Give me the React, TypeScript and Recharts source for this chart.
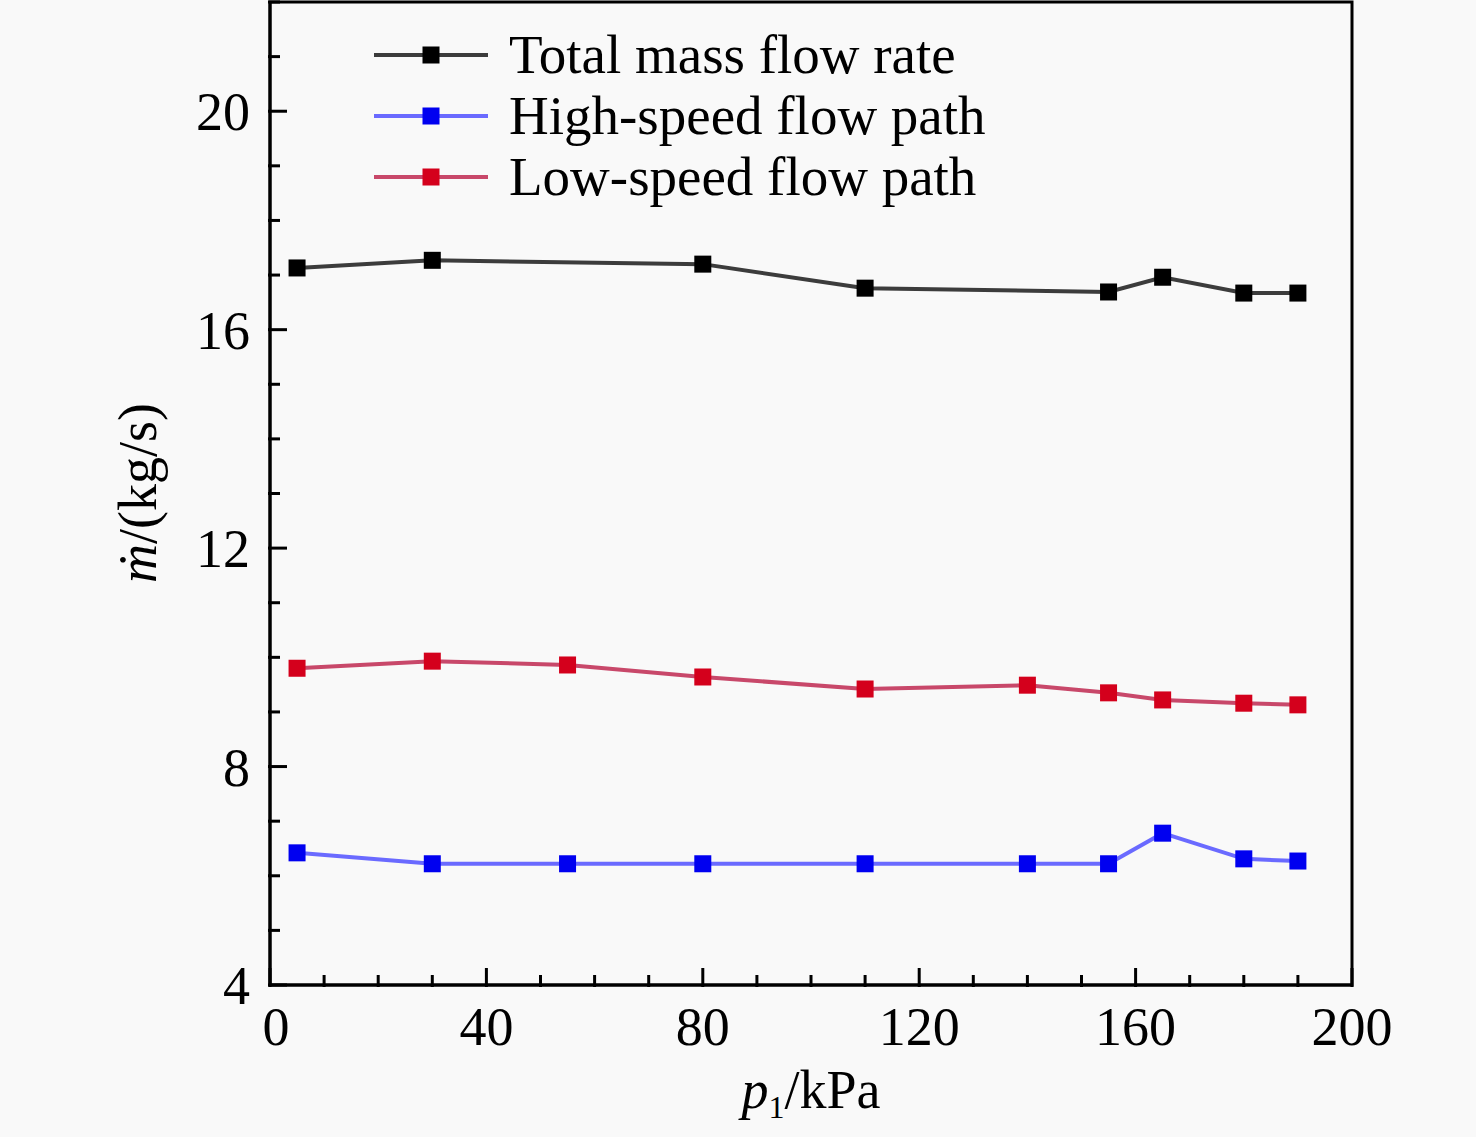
import React from 'react';
import { LineChart, Line, XAxis, YAxis, ReferenceArea } from 'recharts';

const pressures = [5, 30, 55, 80, 110, 140, 155, 165, 180, 190];
const totalFlow = [17.13, 17.27, null, 17.2, 16.76, null, 16.69, 16.96, 16.67, 16.67];
const highSpeed = [6.42, 6.22, 6.22, 6.22, 6.22, 6.22, 6.22, 6.78, 6.31, 6.27];
const lowSpeed = [9.8, 9.93, 9.86, 9.64, 9.42, 9.49, 9.35, 9.22, 9.16, 9.13];

const xMajor = [0, 40, 80, 120, 160, 200];
const xTicks = [0, 10, 20, 30, 40, 50, 60, 70, 80, 90, 100, 110, 120, 130, 140, 150, 160, 170, 180, 190, 200];
const yMajor = [4, 8, 12, 16, 20];
const yTicks = [4, 5, 6, 7, 8, 9, 10, 11, 12, 13, 14, 15, 16, 17, 18, 19, 20, 21, 22];

const seriesNames = ['Total mass flow rate', 'High-speed flow path', 'Low-speed flow path'];
const lineColors = ['#3c3c3c', '#6a6aff', '#c8486a'];
const markerColors = ['#000000', '#0000f0', '#d4001c'];

const data = pressures.map((p, i) => ({
  p,
  total: totalFlow[i],
  high: highSpeed[i],
  low: lowSpeed[i],
}));

const FONT = '"Liberation Serif", "Times New Roman", serif';

const XTick = (props: any) => {
  const { x, y, payload } = props;
  const major = xMajor.includes(payload.value);
  const len = major ? 17 : 10;
  return (
    <g>
      <line x1={x} y1={y + 2} x2={x} y2={y - len} stroke="#000" strokeWidth={3} />
      {major && (
        <text x={x + (payload.value === 0 ? 6 : 0)} y={y + 60} textAnchor="middle" fontFamily={FONT} fontSize={54} fill="#000">
          {payload.value}
        </text>
      )}
    </g>
  );
};

const YTick = (props: any) => {
  const { x, y, payload } = props;
  const major = yMajor.includes(payload.value);
  const len = major ? 17 : 10;
  return (
    <g>
      <line x1={x - 2} y1={y} x2={x + len} y2={y} stroke="#000" strokeWidth={3} />
      {major && (
        <text x={x - 20} y={y + 19} textAnchor="end" fontFamily={FONT} fontSize={54} fill="#000">
          {payload.value}
        </text>
      )}
    </g>
  );
};

const Square = (color: string) => (props: any) => {
  const { cx, cy } = props;
  if (cx == null || cy == null || props.value == null) return <g />;
  return <rect x={cx - 8.5} y={cy - 8.5} width={17} height={17} fill={color} />;
};

const LegendBox = () => (
  <div
    style={{
      position: 'absolute',
      left: 372,
      top: 24,
      fontFamily: FONT,
      fontSize: 55,
      lineHeight: '61px',
      color: '#000',
    }}
  >
    {seriesNames.map((n, i) => (
      <div key={n} style={{ display: 'flex', alignItems: 'center', height: 61 }}>
        <svg width={137} height={20} style={{ flex: 'none' }}>
          <line x1={2} y1={10} x2={116} y2={10} stroke={lineColors[i]} strokeWidth={4} />
          <rect x={50.5} y={1.5} width={17} height={17} fill={markerColors[i]} />
        </svg>
        <span style={{ whiteSpace: 'nowrap' }}>{n}</span>
      </div>
    ))}
  </div>
);

export default function App() {
  return (
    <div style={{ position: 'fixed', left: 0, top: 0, width: 1476, height: 1137, background: '#f9f9f9' }}>
      <LineChart
        width={1476}
        height={1137}
        data={data}
        margin={{ top: 2, right: 124, bottom: 92, left: 170 }}
      >
        <XAxis
          dataKey="p"
          type="number"
          domain={[0, 200]}
          ticks={xTicks}
          interval={0}
          height={60}
          tickSize={0}
          tickMargin={0}
          tickLine={false}
          axisLine={{ stroke: '#000', strokeWidth: 3 }}
          tick={<XTick />}
          label={{
            content: () => (
              <text x={811} y={1108} textAnchor="middle" fontFamily={FONT} fontSize={54} fill="#000">
                <tspan fontStyle="italic" fill="#000">p</tspan>
                <tspan fontSize={32} dy={10} fill="#000">1</tspan>
                <tspan dy={-10} fill="#000">/kPa</tspan>
              </text>
            ),
          }}
        />
        <YAxis
          type="number"
          domain={[4, 22]}
          ticks={yTicks}
          interval={0}
          width={100}
          tickSize={0}
          tickMargin={0}
          tickLine={false}
          axisLine={{ stroke: '#000', strokeWidth: 3 }}
          tick={<YTick />}
          label={{
            content: () => (
              <text
                x={156}
                y={493}
                transform="rotate(-90 156 493)"
                textAnchor="middle"
                fontFamily={FONT}
                fontSize={54}
                fill="#000"
              >
                <tspan fontStyle="italic" fill="#000">ṁ</tspan>
                <tspan fill="#000">/(kg/s)</tspan>
              </text>
            ),
          }}
        />
        <ReferenceArea x1={0} x2={200} y1={4} y2={22} fill="none" stroke="#000" strokeWidth={3} ifOverflow="visible" />
        <Line
          dataKey="total"
          stroke={lineColors[0]}
          strokeWidth={4}
          connectNulls
          dot={Square(markerColors[0])}
          activeDot={false}
          isAnimationActive={false}
        />
        <Line
          dataKey="high"
          stroke={lineColors[1]}
          strokeWidth={4}
          dot={Square(markerColors[1])}
          activeDot={false}
          isAnimationActive={false}
        />
        <Line
          dataKey="low"
          stroke={lineColors[2]}
          strokeWidth={4}
          dot={Square(markerColors[2])}
          activeDot={false}
          isAnimationActive={false}
        />
      </LineChart>
      <LegendBox />
    </div>
  );
}
